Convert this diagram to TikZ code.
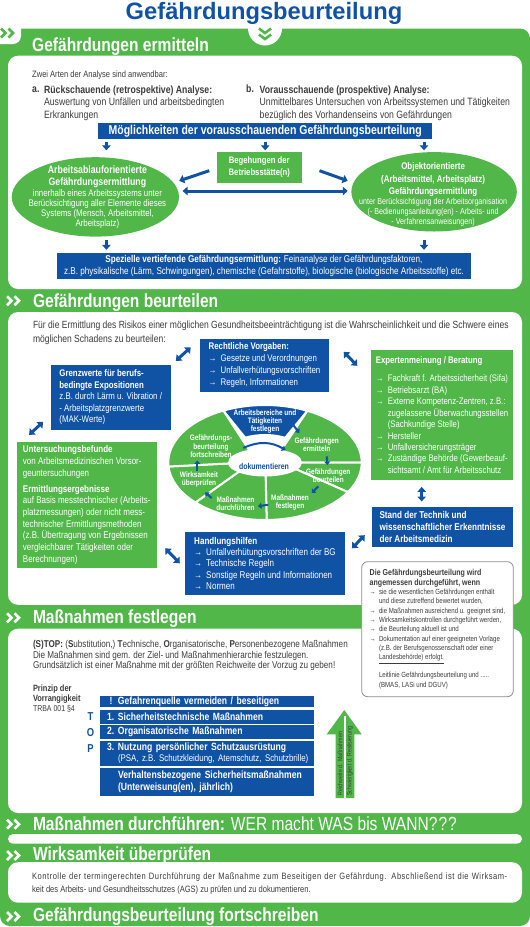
\documentclass[tikz,border=0pt]{standalone}
\usepackage{fontspec}
\setmainfont{Liberation Sans}[FakeStretch=0.82]
\newfontfamily\titelfont{Liberation Sans}
\usetikzlibrary{arrows.meta,shapes.geometric,positioning}

\definecolor{gruen}{RGB}{80,183,72}
\definecolor{blau}{RGB}{16,82,163}
\definecolor{dunkel}{RGB}{60,60,60}
\definecolor{rahmen}{RGB}{140,140,140}

\newcommand{\fs}[2]{\fontsize{#1}{#2}\selectfont}
\newcommand{\pf}{\makebox[12pt][l]{→}}
\newcommand{\ein}{\hspace*{12pt}}
\newcommand{\pfk}{\makebox[9.3pt][l]{→}}
\newcommand{\einK}{\hspace*{9.3pt}}

\tikzset{
  kopf/.style={anchor=base west, inner sep=0pt, text=white, font=\bfseries\fs{19}{22}},
  feld/.style={fill=white, rounded corners=10pt},
  zeile/.style={anchor=base west, inner sep=0pt, text=dunkel},
  fliess/.style={anchor=north west, inner sep=0pt, text=dunkel, align=left},
  kasten/.style={fill=blau, text=white, align=left, inner sep=0pt},
  gkasten/.style={fill=gruen, text=white, align=left, inner sep=0pt},
  stufe/.style={kasten, text width=200.5pt, inner xsep=6.7pt},
  segtext/.style={text=white, align=center, inner sep=0pt, font=\bfseries\fs{7.9}{8.4}},
  pfeil/.style={-{Triangle[length=5pt,width=8.5pt]}, line width=3pt, blau},
  dpfeil/.style={{Triangle[length=5pt,width=8.5pt]}-{Triangle[length=5pt,width=8.5pt]}, line width=3pt, blau},
  kpfeil/.style={-{Triangle[length=3.5pt,width=6pt]}, line width=2pt, blau},
  chev/.pic={\draw[line width=2.6pt] (0,4.5) -- (4.5,0) -- (0,-4.5) (7.5,4.5) -- (12,0) -- (7.5,-4.5);},
  chevu/.pic={\draw[line width=2.6pt] (-6,3) -- (0,-1.5) -- (6,3) (-6,-3) -- (0,-7.5) -- (6,-3);}
}

\begin{document}
\begin{tikzpicture}[x=1pt, y=1pt]
\useasboundingbox (0,0) rectangle (530,-927);

% Hintergrund
\fill[gruen, rounded corners=10pt] (0,-28.5) rectangle (530,-926);
\fill[white, rounded corners=8pt] (-12,-18) rectangle (21,-44);
\fill[white] (265,-28.5) circle[radius=17];
\pic[gruen] at (1,-33) {chev};
\pic[gruen] at (265,-31.5) {chevu};

% Titel
\node[anchor=base, inner sep=0pt, text=blau, font=\titelfont\bfseries\fs{23.7}{26}]
  (titel) at (264,-19.6) {Gefährdungsbeurteilung};

% Felder
\fill[feld] (8,-55.7) rectangle (522,-289);
\fill[feld] (8,-312) rectangle (522,-604.8);
\fill[feld] (8,-628.7) rectangle (522,-813);
\fill[feld, rounded corners=4.7pt] (8,-834.2) rectangle (522,-843.6);
\fill[feld] (8,-862.2) rectangle (522,-902.7);

% Kopfzeilen
\node[kopf] (h1) at (32,-51.4) {Gefährdungen ermitteln};
\pic[white] at (7,-300.8) {chev};
\node[kopf] (h2) at (32.8,-307) {Gefährdungen beurteilen};
\pic[white] at (7,-617.8) {chev};
\node[kopf] (h3) at (32.8,-623.6) {Maßnahmen festlegen};
\pic[white] at (7,-824.2) {chev};
\node[kopf] (h4) at (32.8,-830) {Maßnahmen durchführen: {\mdseries WER macht WAS bis WANN?\kern1pt?\kern1pt?}};
\pic[white] at (7,-855.5) {chev};
\node[kopf] (h5) at (32.8,-860.5) {Wirksamkeit überprüfen};
\pic[white] at (7,-916.5) {chev};
\node[kopf] (h6) at (32.8,-921.4) {Gefährdungsbeurteilung fortschreiben};

%Ermitteln
\node[zeile, font=\fs{9.2}{11}] (zwei) at (32,-77) {Zwei Arten der Analyse sind anwendbar:};
\node[zeile, font=\bfseries\fs{10.6}{12.6}] (a) at (32,-92.9) {a.};
\node[fliess, font=\fs{10.6}{12.6}] (atext) at (43.9,-85.2)
  {\textbf{Rückschauende (retrospektive) Analyse:}\\Auswertung von Unfällen und arbeitsbedingten\\Erkrankungen};
\node[zeile, font=\bfseries\fs{10.6}{12.6}] (b) at (246,-92.9) {b.};
\node[fliess, font=\fs{10.6}{12.6}] (btext) at (259.5,-85.2)
  {\textbf{Vorausschauende (prospektive) Analyse:}\\Unmittelbares Untersuchen von Arbeitssystemen und Tätigkeiten\\bezüglich des Vorhandenseins von Gefährdungen};

\node[kasten, align=center, minimum width=334.4pt, minimum height=15.2pt, font=\bfseries\fs{12.8}{14}]
  (moegl) at (265.2,-131) {Möglichkeiten der vorausschauenden Gefährdungsbeurteilung};
\node[gkasten, align=center, minimum width=84.8pt, minimum height=30.4pt, font=\bfseries\fs{9.4}{11.8}]
  (beg) at (259.3,-167.3) {Begehungen der\\Betriebsstätte(n)};
\node[ellipse, fill=gruen, minimum width=167.2pt, minimum height=79.4pt, inner sep=0pt]
  (links) at (95.4,-196.9) {};
\node[text=white, align=center, inner sep=0pt, font=\fs{9.6}{10.1}] (linkstext) at ([xshift=2pt]links.center)
  {{\bfseries\fs{10.7}{12.8}Arbeitsablauforientierte}\\[2.7pt]{\bfseries\fs{10.7}{12.8}Gefährdungsermittlung}\\innerhalb eines Arbeitssystems unter\\Berücksichtigung aller Elemente dieses\\Systems (Mensch, Arbeitsmittel,\\Arbeitsplatz)};
\node[ellipse, fill=gruen, minimum width=165.5pt, minimum height=79.4pt, inner sep=0pt]
  (rechts) at (434.1,-191.8) {};
\node[text=white, align=center, inner sep=0pt, font=\fs{8.7}{10}] (rechtstext) at ([shift={(-1pt,-2.7pt)}]rechts.center)
  {{\bfseries\fs{9.7}{12.3}Objektorientierte}\\[2.3pt]{\bfseries\fs{9.7}{12.3}(Arbeitsmittel, Arbeitsplatz)}\\[2.3pt]{\bfseries\fs{9.7}{12.3}Gefährdungsermittlung}\\unter Berücksichtigung der Arbeitsorganisation\\(- Bedienungsanleitung(en) - Arbeits- und\\- Verfahrensanweisungen)};
\node[kasten, align=center, minimum width=414.5pt, minimum height=26pt, font=\fs{9.9}{12.2}]
  (spez) at (264,-265.8) {\textbf{Spezielle vertiefende Gefährdungsermittlung:} Feinanalyse der Gefährdungsfaktoren,\\z.B. physikalische (Lärm, Schwingungen), chemische (Gefahrstoffe), biologische (biologische Arbeitsstoffe) etc.};

\draw[pfeil] ([shift={(-158.8pt,-3.4pt)}]moegl.south) -- ([shift={(11pt,6.7pt)}]links.north);
\draw[pfeil] ([yshift=-3.4pt]moegl.south) -- ([shift={(5.9pt,1.6pt)}]beg.north);
\draw[pfeil] ([shift={(158.8pt,-3.4pt)}]moegl.south) -- ([shift={(-10.1pt,1.6pt)}]rechts.north);
\draw[pfeil] ([shift={(-7.4pt,-3.4pt)}]beg.west) -- ([yshift=16.1pt]links.east);
\draw[pfeil] ([shift={(17.6pt,-3.4pt)}]beg.east) -- ([shift={(-3.4pt,11pt)}]rechts.west);
\draw[dpfeil] ([shift={(3.4pt,5.9pt)}]links.east) -- ([shift={(-3.4pt,0.8pt)}]rechts.west);
\draw[pfeil] ([shift={(11pt,-3.4pt)}]links.south) -- ([shift={(-157.6pt,2.8pt)}]spez.north);
\draw[pfeil] ([shift={(-10.1pt,-8.5pt)}]rechts.south) -- ([shift={(160pt,2.8pt)}]spez.north);

%Beurteilen
\node[fliess, font=\fs{10.4}{14.1}] (intro) at (32.8,-321)
  {Für die Ermittlung des Risikos einer möglichen Gesundheitsbeeinträchtigung ist die Wahrscheinlichkeit und die Schwere eines\\möglichen Schadens zu beurteilen:};
\node[kasten, minimum width=128.4pt, minimum height=52.7pt, font=\fs{9.6}{12}]
  (recht) at (264.5,-365.4) {\textbf{Rechtliche Vorgaben:}\\\pf Gesetze und Verordnungen\\\pf Unfallverhütungsvorschriften\\\pf Regeln, Informationen};
\node[kasten, minimum width=120pt, minimum height=65pt, font=\fs{9.6}{11.5}]
  (grenz) at (110.7,-397.5) {\textbf{Grenzwerte für berufs-}\\\textbf{bedingte Expositionen}\\z.B. durch Lärm u. Vibration /\\- Arbeitsplatzgrenzwerte\\(MAK-Werte)};
\node[gkasten, minimum width=142.6pt, minimum height=130pt, font=\fs{9.5}{11.45}]
  (expert) at (442,-415) {\textbf{Expertenmeinung / Beratung}\\[6.9pt]\pf Fachkraft f. Arbeitssicherheit (Sifa)\\\pf Betriebsarzt (BA)\\\pf Externe Kompetenz-Zentren, z.B.:\\\ein zugelassene Überwachungsstellen\\\ein (Sachkundige Stelle)\\\pf Hersteller\\\pf Unfallversicherungsträger\\\pf Zuständige Behörde (Gewerbeauf-\\\ein sichtsamt / Amt für Arbeitsschutz};
\node[kasten, minimum width=141.6pt, minimum height=40pt, font=\bfseries\fs{9.9}{12.2}]
  (stand) at (442.5,-526.7) {Stand der Technik und\\wissenschaftlicher Erkenntnisse\\der Arbeitsmedizin};
\node[gkasten, minimum width=140pt, minimum height=126.6pt, font=\fs{9.75}{11.7}]
  (unters) at (86.7,-505) {\textbf{Untersuchungsbefunde}\\von Arbeitsmedizinischen Vorsor-\\geuntersuchungen\\[4.3pt]\textbf{Ermittlungsergebnisse}\\auf Basis messtechnischer (Arbeits-\\platzmessungen) oder nicht mess-\\technischer Ermittlungsmethoden\\(z.B. Übertragung von Ergebnissen\\vergleichbarer Tätigkeiten oder\\Berechnungen)};
\node[kasten, minimum width=160pt, minimum height=63.3pt, font=\fs{9.8}{11.35}]
  (handl) at (265,-563.3) {\textbf{Handlungshilfen}\\\pf Unfallverhütungsvorschriften der BG\\\pf Technische Regeln\\\pf Sonstige Regeln und Informationen\\\pf Normen};

\draw[dpfeil] ([shift={(5pt,4pt)}]grenz.north east) -- ([shift={(-9.4pt,-8.5pt)}]recht.north west);
\draw[dpfeil] ([shift={(14.8pt,-13pt)}]recht.north east) -- ([shift={(-13.2pt,-16pt)}]expert.north west);
\draw[dpfeil] ([shift={(-7.4pt,8.3pt)}]grenz.south west) -- ([shift={(12.6pt,6.7pt)}]unters.north west);
\draw[dpfeil] ([shift={(8.3pt,-43.3pt)}]unters.east) -- ([xshift=-5pt]handl.west);
\draw[dpfeil] ([shift={(6.7pt,15pt)}]handl.east) -- ([shift={(-6.7pt,11.7pt)}]stand.south west);
\draw[dpfeil] ([shift={(-20.3pt,-6.7pt)}]expert.south) -- ([shift={(-20.8pt,5pt)}]stand.north);

%Kreislauf
\coordinate (zyk) at (265,-462.5);
\foreach \a/\b/\farbe/\ix/\iy in {64/115.5/blau/46/27.5, 0/64/gruen/36/13, -31/0/gruen/36/13,
    -89/-31/gruen/36/13, -136/-89/gruen/36/13, -176/-136/gruen/36/13, 115.5/184/gruen/36/13}
  \filldraw[fill=\farbe, draw=white, line width=2pt]
    ([shift={(\a:96.7 and 57.5)}]zyk) arc[start angle=\a, end angle=\b, x radius=96.7, y radius=57.5]
    -- ([shift={(\b:{\ix} and {\iy})}]zyk) arc[start angle=\b, end angle=\a, x radius=\ix, y radius=\iy] -- cycle;
\node[segtext] (s1) at (265,-421.5) {Arbeitsbereiche und\\Tätigkeiten\\festlegen};
\node[segtext] (s2) at (316.7,-444.7) {Gefährdungen\\ermitteln};
\node[segtext] (s3) at (328.3,-475.5) {Gefährdungen\\beurteilen};
\node[segtext] (s4) at (290,-502.5) {Maßnahmen\\festlegen};
\node[segtext] (s5) at (235.5,-503.5) {Maßnahmen\\durchführen};
\node[segtext] (s6) at (199,-479.5) {Wirksamkeit\\überprüfen};
\node[segtext] (s7) at (211,-446.5) {Gefährdungs-\\beurteilung\\fortschreiben};
\node[ellipse, fill=white, minimum width=61.6pt, minimum height=15pt, inner sep=0pt] (doku) at (262.5,-466.3) {};
\node[text=blau, inner sep=0pt, font=\bfseries\fs{8.5}{10}] (dokutext) at ([xshift=1.5pt]doku.center) {dokumentieren};
\foreach \n/\xa/\ya/\xb/\yb in {1/293.3/-425/299.3/-433, 2/326.7/-456.3/327.5/-465, 3/318.3/-486.3/311.7/-493,
    4/268.3/-504.7/258/-506.3, 5/211.7/-498/205/-492.5, 6/197.3/-471/197.3/-460.5}{
  \coordinate (ka\n) at (\xa,\ya);
  \coordinate (kb\n) at (\xb,\yb);
  \draw[kpfeil] (ka\n) -- (kb\n);
}
\coordinate (bogena) at (243.3,-448);
\coordinate (bogenb) at (285.5,-450);
\draw[kpfeil] (bogena) to[bend left=28] (bogenb);

%Hinweis
\node[draw=rahmen, line width=0.8pt, fill=white, rounded corners=6pt, minimum width=151.6pt, minimum height=135pt,
  align=left, inner sep=0pt, text=dunkel, font=\fs{7.45}{9.35}]
  (hinweis) at (437.5,-629.2) {\textbf{\fs{8.6}{9.35}Die Gefährdungsbeurteilung wird}\\\textbf{\fs{8.6}{9.35}angemessen durchgeführt, wenn}\\\pfk sie die wesentlichen Gefährdungen enthält\\\einK und diese zutreffend bewertet wurden,\\\pfk die Maßnahmen ausreichend u. geeignet sind,\\\pfk Wirksamkeitskontrollen durchgeführt werden,\\\pfk die Beurteilung aktuell ist und\\\pfk Dokumentation auf einer geeigneten Vorlage\\\einK (z.B. der Berufsgenossenschaft oder einer\\\einK \underline{Landesbehörde) erfolgt.}\\[8.6pt]\einK Leitlinie Gefährdungsbeurteilung und .....\\\einK (BMAS, LASi und DGUV)};

%Festlegen
\node[fliess, font=\fs{9.9}{10.6}] (stop) at (32.8,-640.2)
  {\textbf{(S)TOP:} (\textbf{S}ubstitution,) \textbf{T}echnische, \textbf{O}rganisatorische, \textbf{P}ersonenbezogene Maßnahmen\\Die Maßnahmen sind gem. der Ziel- und Maßnahmenhierarchie festzulegen.\\Grundsätzlich ist einer Maßnahme mit der größten Reichweite der Vorzug zu geben!};
\node[fliess, font=\bfseries\fs{9.1}{10}] (prinzip) at (32.8,-684.4)
  {Prinzip der\\Vorrangigkeit\\{\mdseries\fs{8.5}{9.5}TRBA 001 §4}};
\node[stufe, minimum height=11.1pt, font=\bfseries\fs{10.5}{12}]
  (r0) at (207.25,-701.85) {\mbox{\makebox[11pt][l]{\hspace{2.7pt}!}Gefahrenquelle vermeiden / beseitigen}};
\node[stufe, minimum height=13.6pt, font=\bfseries\fs{10.5}{12}]
  (r1) at (207.25,-716.8) {\mbox{\makebox[11pt][l]{1.}Sicherheitstechnische Maßnahmen}};
\node[stufe, minimum height=13.6pt, font=\bfseries\fs{10.5}{12}]
  (r2) at (207.25,-732.1) {\mbox{\makebox[11pt][l]{2.}Organisatorische Maßnahmen}};
\node[stufe, minimum height=25.4pt, font=\bfseries\fs{10.5}{11.8}]
  (r3) at (207.25,-753.2) {\mbox{\makebox[11pt][l]{3.}Nutzung persönlicher Schutzausrüstung}\\\mbox{\hspace*{11pt}\mdseries\fs{9.6}{11.8}(PSA, z.B. Schutzkleidung, Atemschutz, Schutzbrille)}};
\node[stufe, minimum height=28pt, font=\bfseries\fs{10.5}{12.5}]
  (r4) at (207.25,-781.6) {\mbox{\hspace*{11pt}Verhaltensbezogene Sicherheitsmaßnahmen}\\\mbox{\hspace*{11pt}(Unterweisung(en), jährlich)}};
\node[text=blau, inner sep=0pt, font=\bfseries\fs{11.5}{12}] (T) at (90.5,-717) {T};
\node[text=blau, inner sep=0pt, font=\bfseries\fs{11.5}{12}] (O) at (90.5,-732.8) {O};
\node[text=blau, inner sep=0pt, font=\bfseries\fs{11.5}{12}] (P) at (90.5,-749) {P};
% Pfeil Reichweite
\fill[gruen] (335.7,-798) -- (335.7,-734.3) -- (326.7,-734.3) -- (344.3,-710) -- (361.7,-734.3)
  -- (354.3,-734.3) -- (354.3,-798) -- cycle;
\draw[white, line width=1.2pt] (345,-716) -- (345,-798);
\node[rotate=90, anchor=west, inner sep=0pt, text=dunkel, font=\fs{6.5}{8}] (reich) at (340,-796) {Reichweite d. Maßnahmen};
\node[rotate=90, anchor=west, inner sep=0pt, text=dunkel, font=\fs{6.5}{8}] (schwier) at (350,-796) {Schwierigkeit d. Realisierung};

%Wirksamkeit
\node[fliess, text width=475pt, align=justify, font=\fs{9.2}{13.6}] (kontrolle) at (32,-872.3)
  {{\addfontfeature{LetterSpace=5.5}Kontrolle der termingerechten Durchführung der Maßnahme zum Beseitigen der Gefährdung. Abschließend ist die Wirksam-}\linebreak keit des Arbeits- und Gesundheitsschutzes (AGS) zu prüfen und zu dokumentieren.};

\end{tikzpicture}
\end{document}
